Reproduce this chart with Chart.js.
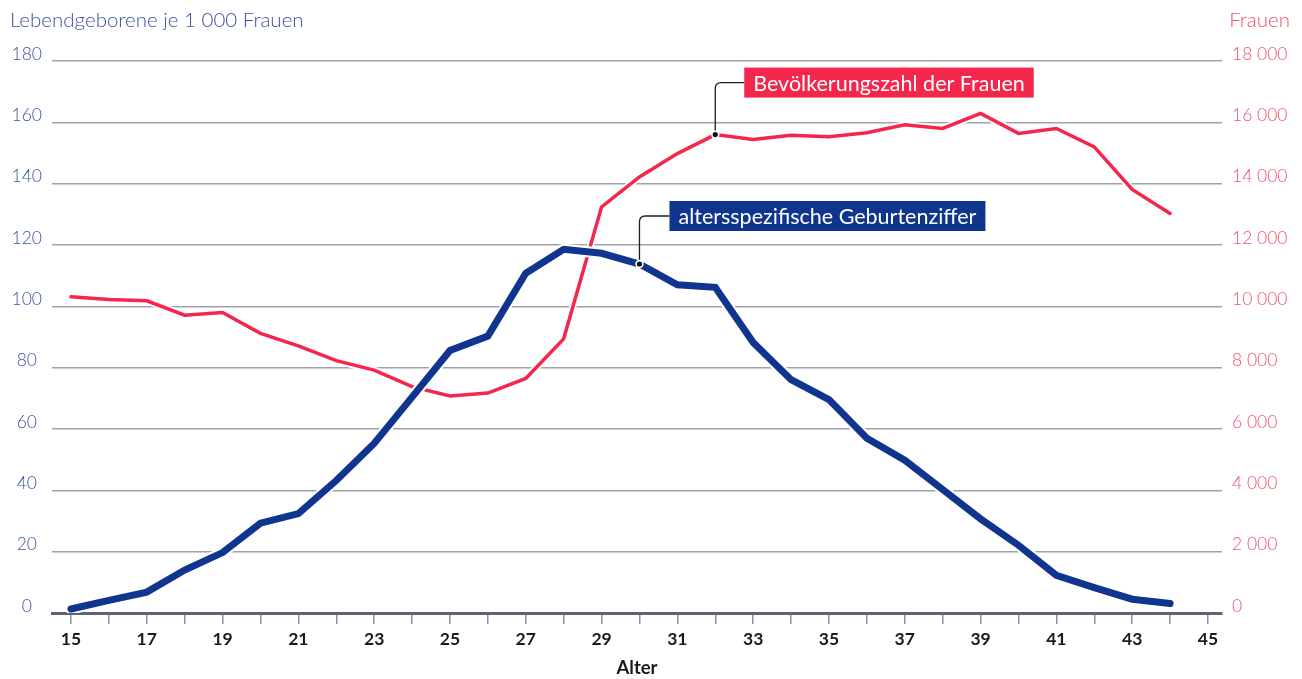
<!DOCTYPE html>
<html lang="de">
<head>
<meta charset="utf-8">
<title>Altersspezifische Geburtenziffer</title>
<script src="https://cdn.jsdelivr.net/npm/chart.js@4/dist/chart.umd.min.js"></script>
<style>
  html, body { margin: 0; padding: 0; background: #ffffff; }
  #wrap { position: relative; width: 1302px; height: 679px; }
</style>
</head>
<body>
<div id="wrap"><canvas id="chart"></canvas></div>
<script>
// ── Data ──────────────────────────────────────────────────

const ages = [15, 16, 17, 18, 19, 20, 21, 22, 23, 24, 25, 26, 27, 28, 29,
              30, 31, 32, 33, 34, 35, 36, 37, 38, 39, 40, 41, 42, 43, 44];

// Lebendgeborene je 1 000 Frauen
const birthRate = [1.3, 4.1, 6.8, 14.0, 19.7, 29.3, 32.4, 43.2, 55.3, 70.4,
                   85.6, 90.3, 110.8, 118.6, 117.3, 113.8, 107.0, 106.2, 88.2, 76.1,
                   69.6, 57.0, 49.8, 40.3, 30.7, 22.1, 12.3, 8.3, 4.5, 3.1];

// Frauen (Bevölkerungszahl)
const women = [10310, 10220, 10180, 9710, 9800, 9120, 8710, 8230, 7920, 7380,
               7080, 7170, 7650, 8940, 13240, 14220, 14980, 15600, 15440, 15580,
               15530, 15660, 15920, 15800, 16290, 15640, 15800, 15200, 13810, 13030];

const xTicks = [15, 16, 17, 18, 19, 20, 21, 22, 23, 24, 25, 26, 27, 28, 29, 30,
                31, 32, 33, 34, 35, 36, 37, 38, 39, 40, 41, 42, 43, 44, 45];

const labelRate  = "altersspezifische Geburtenziffer";
const labelWomen = "Bevölkerungszahl der Frauen";

// ── Colours ───────────────────────────────────────────────

const BLUE      = "#10358f";
const BLUE_TEXT = "#3b52a3";
const RED       = "#f5264c";
const RED_TEXT  = "#f2506c";
const GRID      = "#9ea2ae";
const AXIS      = "#5d6276";
const FONT      = "Lato, 'Noto Sans', sans-serif";

const rateData  = ages.map((a, i) => ({ x: a, y: birthRate[i] }));
const womenData = ages.map((a, i) => ({ x: a, y: women[i] }));

function fmtThousands(v) {
  return String(v).replace(/\B(?=(\d{3})+(?!\d))/g, " ");
}

// ── Plugin: axis headings + callout labels ────────────────

const extras = {
  id: "extras",
  afterDatasetsDraw(chart) {
    const ctx = chart.ctx;
    ctx.save();

    // axis headings
    ctx.font = `300 20.5px ${FONT}`;
    ctx.textBaseline = "middle";
    ctx.fillStyle = BLUE_TEXT;
    ctx.textAlign = "left";
    ctx.fillText("Lebendgeborene je 1 000 Frauen", 10, 20);
    ctx.fillStyle = RED_TEXT;
    ctx.textAlign = "right";
    ctx.fillText("Frauen", 1290, 20);

    // callouts
    const callout = (dsIndex, idx, dx, dy, text, bg) => {
      const p = chart.getDatasetMeta(dsIndex).data[idx];
      const bx = p.x + dx, cy = p.y + dy, r = 6;
      ctx.strokeStyle = "#1f1f1f";
      ctx.lineWidth = 1.3;
      ctx.beginPath();
      ctx.moveTo(p.x, p.y);
      ctx.lineTo(p.x, cy + r);
      ctx.quadraticCurveTo(p.x, cy, p.x + r, cy);
      ctx.lineTo(bx, cy);
      ctx.stroke();

      ctx.fillStyle = "#ffffff";
      ctx.beginPath(); ctx.arc(p.x, p.y, 4.2, 0, Math.PI * 2); ctx.fill();
      ctx.fillStyle = "#111111";
      ctx.beginPath(); ctx.arc(p.x, p.y, 2.6, 0, Math.PI * 2); ctx.fill();

      ctx.font = `21.5px ${FONT}`;
      const w = ctx.measureText(text).width + 18;
      ctx.fillStyle = bg;
      ctx.fillRect(bx, cy - 15, w, 30);
      ctx.fillStyle = "#ffffff";
      ctx.textAlign = "left";
      ctx.textBaseline = "middle";
      ctx.fillText(text, bx + 9, cy + 1);
    };
    callout(2, 17, 29, -52, labelWomen, RED);
    callout(0, 15, 30, -48, labelRate, BLUE);

    ctx.restore();
  }
};

// ── Chart ─────────────────────────────────────────────────

new Chart(document.getElementById("chart"), {
  type: "line",
  data: {
    datasets: [
      { label: labelRate, data: rateData, yAxisID: "y", borderColor: BLUE,
        borderWidth: 7, borderCapStyle: "round", pointRadius: 0, order: 0 },
      { label: "halo-rate", data: rateData, yAxisID: "y", borderColor: "#ffffff",
        borderWidth: 11, borderCapStyle: "round", pointRadius: 0, order: 1 },
      { label: labelWomen, data: womenData, yAxisID: "y1", borderColor: RED,
        borderWidth: 3.5, borderCapStyle: "round", pointRadius: 0, order: 2 },
      { label: "halo-women", data: womenData, yAxisID: "y1", borderColor: "#ffffff",
        borderWidth: 7, borderCapStyle: "round", pointRadius: 0, order: 3 },
    ],
  },
  options: {
    responsive: true,
    maintainAspectRatio: false,
    animation: false,
    layout: { padding: { top: 61, left: 0, right: 0, bottom: 0 } },
    plugins: { legend: { display: false }, tooltip: { enabled: false } },
    elements: { line: { tension: 0 } },
    scales: {
      x: {
        type: "linear",
        min: 14.5, max: 45.37,
        afterBuildTicks: s => { s.ticks = xTicks.map(v => ({ value: v })); },
        afterFit: s => { s.height = 66; s.paddingLeft = 0; s.paddingRight = 0; },
        grid: { drawOnChartArea: false, drawTicks: true, tickLength: 11,
                color: "#8c90a0", lineWidth: 1.5 },
        border: { color: AXIS, width: 3 },
        ticks: {
          autoSkip: false, maxRotation: 0, padding: 5,
          color: "#1a1a1a", font: { family: FONT, size: 17.5, weight: "bold" },
          callback: v => (v % 2 === 1 ? String(v) : ""),
        },
        title: { display: true, text: "Alter", color: "#1a1a1a",
                 font: { family: FONT, size: 18.5, weight: "bold" },
                 padding: { top: 3, bottom: 0 } },
      },
      y: {
        position: "left",
        min: 0, max: 180,
        afterFit: s => { s.width = 52; s.paddingTop = 0; s.paddingBottom = 0; },
        grid: { drawTicks: false, color: c => (c.tick.value === 0 ? "rgba(0,0,0,0)" : GRID),
                lineWidth: 1.5 },
        border: { display: false },
        ticks: { stepSize: 20, padding: 10, crossAlign: "center", labelOffset: -7,
                 color: BLUE_TEXT, font: { family: FONT, size: 17.5, weight: "300" } },
      },
      y1: {
        position: "right",
        min: 0, max: 18000,
        afterFit: s => { s.width = 80; s.paddingTop = 0; s.paddingBottom = 0; },
        grid: { display: false, drawTicks: false },
        border: { display: false },
        ticks: { stepSize: 2000, padding: 10, labelOffset: -7,
                 color: RED_TEXT, font: { family: FONT, size: 17.5, weight: "300" },
                 callback: v => fmtThousands(v) },
      },
    },
  },
  plugins: [extras],
});
</script>
</body>
</html>
